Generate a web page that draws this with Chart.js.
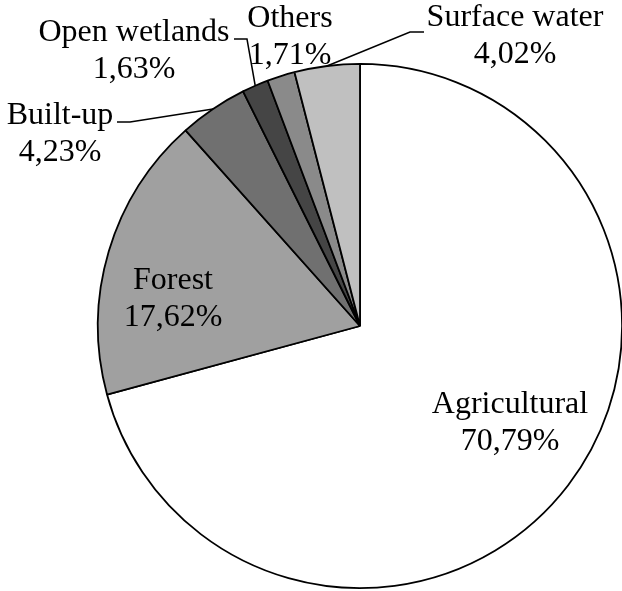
<!DOCTYPE html>
<html>
<head>
    <meta charset="utf-8">
    <title>Land use shares</title>
    <script src="https://cdn.jsdelivr.net/npm/chart.js"></script>
    <style>
      html, body { margin: 0; padding: 0; background: #fff; overflow: hidden; }
    </style>
</head>
<body>
<canvas id="pieChart" width="640" height="591"></canvas>

<script>
    // Land use categories, clockwise from 12 o'clock
    const categories = ['Agricultural', 'Forest', 'Built-up', 'Open wetlands', 'Others', 'Surface water'];
    const shares = [70.79, 17.62, 4.23, 1.63, 1.71, 4.02];
    const shareLabels = ['70,79%', '17,62%', '4,23%', '1,63%', '1,71%', '4,02%'];
    const sliceColors = ['#ffffff', '#a0a0a0', '#707070', '#454545', '#8a8a8a', '#c0c0c0'];

    // Where each label sits; leader = [elbow, end] for labels outside the pie
    const labelLayout = [
      { x: 510, y: 405 },
      { x: 173, y: 281 },
      { x: 60,  y: 116, leader: [[130, 122], [117, 122]] },
      { x: 134, y: 33,  leader: [[247, 39], [234, 39]] },
      { x: 290, y: 19 },
      { x: 515, y: 18,  leader: [[410, 32], [424, 32]] }
    ];

    const pieLabels = {
      id: 'pieLabels',
      afterDraw(chart) {
        const ctx = chart.ctx;
        const arcs = chart.getDatasetMeta(0).data;
        ctx.save();
        ctx.fillStyle = '#000';
        ctx.strokeStyle = '#000';
        ctx.lineWidth = 1.5;
        ctx.font = '32px "Liberation Serif", "Times New Roman", serif';
        ctx.textAlign = 'center';
        ctx.textBaseline = 'middle';
        arcs.forEach((arc, i) => {
          const pos = labelLayout[i];
          if (pos.leader) {
            const mid = (arc.startAngle + arc.endAngle) / 2;
            const ax = arc.x + Math.cos(mid) * arc.outerRadius;
            const ay = arc.y + Math.sin(mid) * arc.outerRadius;
            ctx.beginPath();
            ctx.moveTo(ax, ay);
            pos.leader.forEach(p => ctx.lineTo(p[0], p[1]));
            ctx.stroke();
          }
          ctx.fillText(categories[i], pos.x, pos.y);
          ctx.fillText(shareLabels[i], pos.x, pos.y + 37);
        });
        ctx.restore();
      }
    };

    const ctx = document.getElementById('pieChart').getContext('2d');
    const chart = new Chart(ctx, {
        type: 'pie',
        data: {
            labels: categories,
            datasets: [{
                data: shares,
                backgroundColor: sliceColors,
                borderColor: '#000',
                borderWidth: 1.8
            }]
        },
        options: {
            responsive: false,
            animation: false,
            devicePixelRatio: 1,
            layout: { padding: { left: 97, right: 17, top: 63, bottom: 2 } },
            plugins: {
                legend: { display: false },
                tooltip: { enabled: false }
            }
        },
        plugins: [pieLabels]
    });
</script>
</body>
</html>
